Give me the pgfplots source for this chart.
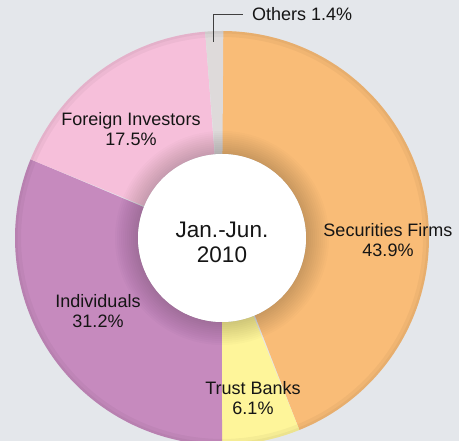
\documentclass[border=0pt]{standalone}
\usepackage{pgfplots}
\pgfplotsset{compat=1.18}
\usepackage{fontspec}
\setmainfont{Liberation Sans}
\definecolor{bg}{HTML}{E4E7EB}
\definecolor{cSec}{HTML}{F9BC77}
\definecolor{cTrust}{HTML}{FEF59A}
\definecolor{cInd}{HTML}{C68ABE}
\definecolor{cFor}{HTML}{F6BFDA}
\definecolor{cOth}{HTML}{DEDADA}
\definecolor{txt}{HTML}{151515}
% shares (percent), clockwise from 12 o'clock
\def\vSec{43.9}\def\vTrust{6.1}\def\vInd{31.2}\def\vFor{17.5}\def\vOth{1.4}
\def\cx{222}\def\cy{203}\def\R{207}\def\r{84}
\pgfmathsetmacro\aA{90}
\pgfmathsetmacro\aB{\aA-3.6*\vSec}
\pgfmathsetmacro\aC{\aB-3.6*\vTrust}
\pgfmathsetmacro\aD{\aC-3.6*\vInd}
\pgfmathsetmacro\aE{\aD-3.6*\vFor}
\pgfmathsetmacro\aF{\aE-3.6*\vOth}
\newcommand{\ring}[3]{%
  \addplot[fill=#3, draw=none, domain=0:2, samples=301, variable=\t]
  ({\cx + ((\t<=1) ? \R : \r)*cos((\t<=1) ? (#1+(#2-#1)*\t) : (#2-(#2-#1)*(\t-1)))},
   {\cy + ((\t<=1) ? \R : \r)*sin((\t<=1) ? (#1+(#2-#1)*\t) : (#2-(#2-#1)*(\t-1)))}) -- cycle;
}
\newcommand{\disc}[2]{%
  \addplot[#2, draw=none, domain=0:360, samples=181, variable=\t]
  ({\cx + #1*cos(\t)}, {\cy + #1*sin(\t)}) -- cycle;
}
\begin{document}
\begin{tikzpicture}
\begin{axis}[
  scale only axis, width=459pt, height=441pt,
  xmin=0, xmax=459, ymin=0, ymax=441,
  axis line style={draw=none}, ticks=none,
  axis background/.style={fill=bg},
  clip=true,
]
\ring{\aA}{\aB}{cSec}
\ring{\aB}{\aC}{cTrust}
\ring{\aC}{\aD}{cInd}
\ring{\aD}{\aE}{cFor}
\ring{\aE}{\aF}{cOth}
% outer rim shading
\addplot[draw=black, draw opacity=0.035, line width=6pt, domain=0:360, samples=181, variable=\t]
  ({\cx + 204*cos(\t)}, {\cy + 204*sin(\t)});
\addplot[draw=black, draw opacity=0.035, line width=2.5pt, domain=0:360, samples=181, variable=\t]
  ({\cx + 205.75*cos(\t)}, {\cy + 205.75*sin(\t)});
% inner shadow
\pgfplotsinvokeforeach{85,87,89,91,93,95,97,99,101,103,105,107}{
  \disc{#1}{fill=black, fill opacity=0.016}
}
\disc{\r}{fill=white}
% leader for Others
\draw[line width=0.8pt, color=black!75] (axis cs:213,399) -- (axis cs:213,427) -- (axis cs:243,427);
\begin{scope}[every node/.style={text=txt, align=center, inner sep=0pt}]
\node[font=\fontsize{18}{19.5}\selectfont, anchor=west] at (axis cs:252,427) {Others 1.4\%};
\node[font=\fontsize{18}{19.5}\selectfont] at (axis cs:131,312) {Foreign Investors\\17.5\%};
\node[font=\fontsize{18}{19.5}\selectfont] at (axis cs:388,201) {Securities Firms\\43.9\%};
\node[font=\fontsize{18}{19.5}\selectfont] at (axis cs:98,130) {Individuals\\31.2\%};
\node[font=\fontsize{18}{19.5}\selectfont] at (axis cs:253,43) {Trust Banks\\6.1\%};
\node[font=\fontsize{22.5}{25}\selectfont] at (axis cs:222,199) {Jan.-Jun.\\2010};
\end{scope}
\end{axis}
\end{tikzpicture}
\end{document}
